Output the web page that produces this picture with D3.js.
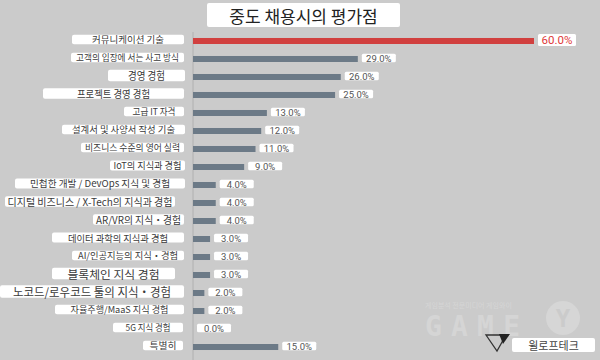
<!DOCTYPE html>
<html>
<head>
<meta charset="utf-8">
<script src="https://cdn.jsdelivr.net/npm/d3@7"></script>
<style>
  body { margin: 0; background: #cbcbcb; }
  svg { display: block; }
</style>
</head>
<body>
<div id="chart"></div>
<script>
// data
const categories = [
    "커뮤니케이션 기술",
    "고객의 입장에 서는 사고 방식",
    "경영 경험",
    "프로젝트 경영 경험",
    "고급 IT 자격",
    "설계서 및 사양서 작성 기술",
    "비즈니스 수준의 영어 실력",
    "IoT의 지식과 경험",
    "민첩한 개발 / DevOps 지식 및 경험",
    "디지털 비즈니스 / X-Tech의 지식과 경험",
    "AR/VR의 지식・경험",
    "데이터 과학의 지식과 경험",
    "AI/인공지능의 지식・경험",
    "블록체인 지식 경험",
    "노코드/로우코드 툴의 지식・경험",
    "자율주행/MaaS 지식 경험",
    "5G 지식 경험",
    "특별히"
];
const values = [60, 29, 26, 25, 13, 12, 11, 9, 4, 4, 4, 3, 3, 3, 2, 2, 0, 15];
const titleText = "중도 채용시의 평가점";
const sourceText = "윌로프테크";
const watermarkLine = "게임분석 전문미디어 게임와이";

// label styling: the boxes in the original were placed by hand,
// so font size, text width and box edges differ per row
const labelFontSizes = [9, 9, 11, 10, 9, 9, 9, 9.5, 9.5, 10, 10, 9.5, 9, 11, 12, 9, 9, 9];
const labelTextWidths = [72, 103, 37, 73, 43, 103, 95, 68, 140, 165, 85, 100, 100, 92, 158, 98, 45, 27];
const labelBoxEdges = [
    [72, 184], [71, 184], [108, 185], [43, 184], [124, 184], [62, 185],
    [81, 184], [110, 185], [15, 185], [5, 175], [93, 184], [52, 184],
    [72, 184], [52, 175], [0, 184], [55, 184], [113, 183], [143, 183]
];

const width = 600,
    height = 360,
    x0 = 193,
    krFont = "'Noto Sans CJK KR', 'Noto Sans', sans-serif";

const svg = d3.select("#chart").append("svg")
    .attr("width", width)
    .attr("height", height);

svg.append("rect")
    .attr("width", width)
    .attr("height", height)
    .attr("fill", "#cbcbcb");

// scales
const x = d3.scaleLinear()
    .domain([0, 60])
    .range([x0, 534]);

const y = d3.scaleBand()
    .domain(categories)
    .range([32, 356])
    .paddingInner(0.667)
    .paddingOuter(0.333);

const barH = 6;
const cy = d => y(d) + y.bandwidth() / 2;

// watermark
const wm = svg.append("g").attr("class", "watermark");
wm.append("text")
    .attr("x", 425).attr("y", 308)
    .attr("font-family", krFont)
    .attr("font-size", 7)
    .attr("fill", "#d6d6d6")
    .text(watermarkLine);
wm.append("text")
    .attr("x", 425).attr("y", 336)
    .attr("font-family", "'DejaVu Sans Mono', monospace")
    .attr("font-weight", "bold")
    .attr("font-size", 28)
    .attr("textLength", 95)
    .attr("fill", "#d5d5d5")
    .text("GAME");
wm.append("circle")
    .attr("cx", 563).attr("cy", 318).attr("r", 17)
    .attr("fill", "#d6d6d6");
wm.append("text")
    .attr("x", 563).attr("y", 327)
    .attr("text-anchor", "middle")
    .attr("font-family", "'DejaVu Sans Mono', monospace")
    .attr("font-weight", "bold")
    .attr("font-size", 24)
    .attr("fill", "#cbcbcb")
    .text("Y");

// axis line
svg.append("line")
    .attr("x1", x0).attr("x2", x0)
    .attr("y1", 32).attr("y2", height)
    .attr("stroke", "#b0b0b0")
    .attr("stroke-width", 1);

// bars
svg.selectAll(".bar")
    .data(categories)
    .enter()
    .append("rect")
        .attr("class", "bar")
        .attr("x", x(0))
        .attr("y", d => cy(d) - barH / 2)
        .attr("width", (d, i) => x(values[i]) - x(0))
        .attr("height", barH)
        .attr("fill", (d, i) => i === 0 ? "#d1403f" : "#6c7a87");

// category labels in white boxes
const labels = svg.selectAll(".catLabel")
    .data(categories)
    .enter()
    .append("g")
        .attr("class", "catLabel");

labels.each(function(d, i) {
    const g = d3.select(this);
    const fs = labelFontSizes[i];
    const [left, right] = labelBoxEdges[i];
    const boxH = fs + 0.5,
        mid = cy(d) - 1.5;
    g.append("rect")
        .attr("x", left)
        .attr("y", mid - boxH / 2)
        .attr("width", right - left)
        .attr("height", boxH)
        .attr("rx", 2)
        .attr("fill", "#fff");
    g.append("text")
        .attr("x", (left + right) / 2)
        .attr("y", mid)
        .attr("font-family", krFont)
        .attr("font-size", fs)
        .attr("fill", "#3a3a3a")
        .attr("text-anchor", "middle")
        .attr("dominant-baseline", "central")
        .attr("textLength", labelTextWidths[i])
        .attr("lengthAdjust", "spacingAndGlyphs")
        .text(d);
});

// value labels
const valLabels = svg.selectAll(".valLabel")
    .data(categories)
    .enter()
    .append("g")
        .attr("class", "valLabel");

valLabels.each(function(d, i) {
    const g = d3.select(this);
    const first = i === 0;
    const boxW = first ? 38 : 34,
        boxH = first ? 12 : 8.5,
        bx = x(values[i]) + 4,
        by = cy(d) - 1 - boxH / 2;
    g.append("rect")
        .attr("x", bx).attr("y", by)
        .attr("width", boxW).attr("height", boxH)
        .attr("rx", 1.5)
        .attr("fill", "#fff");
    g.append("text")
        .attr("x", bx + boxW / 2)
        .attr("y", by + boxH / 2 + 0.5)
        .attr("text-anchor", "middle")
        .attr("dominant-baseline", "central")
        .attr("font-family", "Roboto, sans-serif")
        .attr("font-size", first ? 11.5 : 9.5)
        .attr("fill", first ? "#e03a3a" : "#555")
        .text(values[i].toFixed(1) + "%");
});

// title
svg.append("rect")
    .attr("x", 207).attr("y", 3)
    .attr("width", 193).attr("height", 24)
    .attr("rx", 2)
    .attr("fill", "#fff");
svg.append("text")
    .attr("x", 303.5).attr("y", 15.5)
    .attr("text-anchor", "middle")
    .attr("dominant-baseline", "central")
    .attr("font-family", krFont)
    .attr("font-size", 17)
    .attr("fill", "#222")
    .text(titleText);

// source logo
const logo = svg.append("g").attr("class", "logo");
logo.append("path")
    .attr("d", "M486,335 L506,335 L497,351 Z")
    .attr("fill", "none")
    .attr("stroke", "#333")
    .attr("stroke-width", 1.3);
logo.append("path")
    .attr("d", "M499,334 L510,334 L503,344 Z")
    .attr("fill", "#222");
logo.append("rect")
    .attr("x", 512).attr("y", 338)
    .attr("width", 83).attr("height", 14)
    .attr("rx", 2)
    .attr("fill", "#fff");
logo.append("text")
    .attr("x", 553.5).attr("y", 345)
    .attr("text-anchor", "middle")
    .attr("dominant-baseline", "central")
    .attr("font-family", krFont)
    .attr("font-size", 11)
    .attr("fill", "#444")
    .text(sourceText);
</script>
</body>
</html>
